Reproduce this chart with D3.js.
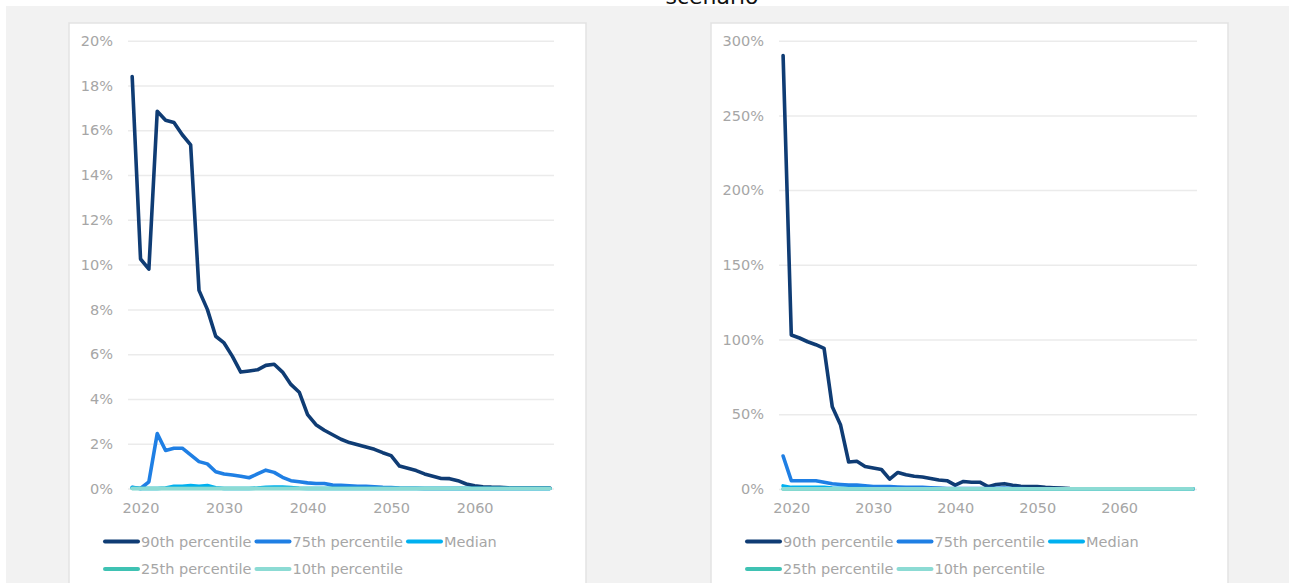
<!DOCTYPE html>
<html>
<head>
<meta charset="utf-8">
<script src="https://cdn.jsdelivr.net/npm/d3@7"></script>
<style>
  html, body { margin: 0; padding: 0; background: #ffffff; }
  svg { display: block; }
  text { font-family: "DejaVu Sans", Verdana, sans-serif; }
</style>
</head>
<body>
<svg id="chart" width="1289" height="583"></svg>
<script>
// ---------------- DATA ----------------
const years = d3.range(2019, 2070); // 2019..2069 categories
const xTickYears = [2020, 2030, 2040, 2050, 2060];
const seriesNames = ["90th percentile", "75th percentile", "Median", "25th percentile", "10th percentile"];
const seriesColors = ["#0f3c74", "#1f7fe4", "#00b0f0", "#3fc2b3", "#8cdbd4"];

// Left chart values (percent)
const leftP90 = [18.4, 10.25, 9.8, 16.85, 16.45, 16.35, 15.8, 15.35, 8.85, 8.0,
  6.8, 6.5, 5.9, 5.2, 5.25, 5.3, 5.5, 5.55, 5.2, 4.65,
  4.3, 3.3, 2.85, 2.6, 2.4, 2.2, 2.05, 1.95, 1.85, 1.75,
  1.6, 1.47, 1.0, 0.9, 0.8, 0.65, 0.55, 0.45, 0.44, 0.35,
  0.2, 0.12, 0.08, 0.06, 0.05, 0.03, 0.02, 0.02, 0.02, 0.02, 0.02];
const leftP75 = [0.05, 0.0, 0.3, 2.45, 1.7, 1.8, 1.8, 1.5, 1.2, 1.1,
  0.75, 0.65, 0.6, 0.55, 0.48, 0.65, 0.82, 0.72, 0.5, 0.35,
  0.3, 0.25, 0.22, 0.22, 0.15, 0.14, 0.12, 0.1, 0.1, 0.08,
  0.05, 0.04, 0.02, 0.01, 0.01, 0.0, 0.0, 0.0, 0.0, 0.0,
  0.0, 0.0, 0.0, 0.0, 0.0, 0.0, 0.0, 0.0, 0.0, 0.0, 0.0];
const leftMed = [0.04, 0.0, 0.0, 0.0, 0.02, 0.1, 0.1, 0.13, 0.1, 0.13,
  0.03, 0.0, 0.0, 0.0, 0.0, 0.02, 0.05, 0.07, 0.07, 0.04,
  0.01, 0.0, 0.0, 0.0, 0.0, 0.0, 0.0, 0.0, 0.0, 0.0,
  0.0, 0.0, 0.0, 0.0, 0.0, 0.0, 0.0, 0.0, 0.0, 0.0,
  0.0, 0.0, 0.0, 0.0, 0.0, 0.0, 0.0, 0.0, 0.0, 0.0, 0.0];
const leftP25 = years.map(() => 0);
const leftP10 = years.map(() => 0);

// Right chart values (percent)
const rightP90 = [290, 103, 101, 98.5, 96.5, 94, 55, 43, 18, 18.5,
  15, 14, 13, 6.5, 11, 9.5, 8.5, 8, 7, 6,
  5.5, 2.5, 5, 4.5, 4.5, 1.5, 3, 3.5, 2.5, 1.8,
  1.5, 1.5, 1.0, 0.8, 0.6, 0.2, 0.1, 0.1, 0.1, 0.1,
  0.1, 0.1, 0.1, 0.05, 0.0, 0.0, 0.0, 0.0, 0.0, 0.0, 0.0];
const rightP75 = [22, 5.5, 5.5, 5.5, 5.5, 4.5, 3.5, 3, 2.5, 2.5,
  2, 1.5, 1.5, 1.5, 1.2, 1, 1, 1, 0.8, 0.5,
  0.3, 0.2, 0.2, 0.2, 0.2, 0.2, 0.4, 0.5, 0.3, 0.2,
  0.1, 0.1, 0.1, 0.05, 0.0, 0.0, 0.0, 0.0, 0.0, 0.0,
  0.0, 0.0, 0.0, 0.0, 0.0, 0.0, 0.0, 0.0, 0.0, 0.0, 0.0];
const rightMed = [2, 1, 1, 1, 1, 1, 0.6, 0.4, 0.3, 0.3,
  0.2, 0.1, 0.1, 0.1, 0.1, 0.0, 0.0, 0.0, 0.0, 0.0,
  0.0, 0.0, 0.0, 0.0, 0.0, 0.0, 0.0, 0.0, 0.0, 0.0,
  0.0, 0.0, 0.0, 0.0, 0.0, 0.0, 0.0, 0.0, 0.0, 0.0,
  0.0, 0.0, 0.0, 0.0, 0.0, 0.0, 0.0, 0.0, 0.0, 0.0, 0.0];
const rightP25 = years.map(() => 0);
const rightP10 = years.map(() => 0);

const leftTicks = [0, 2, 4, 6, 8, 10, 12, 14, 16, 18, 20];
const rightTicks = [0, 50, 100, 150, 200, 250, 300];

// ---------------- DRAW ----------------
const svg = d3.select("#chart");
const FS = 14.5;

// page background
svg.append("rect").attr("x", 6).attr("y", 6).attr("width", 1289 - 6).attr("height", 583 - 6)
  .attr("fill", "#f2f2f2");

// partially visible title (cut off at the top, as in the reference)
svg.append("text").attr("x", 712).attr("y", 4).attr("text-anchor", "middle")
  .attr("font-size", 22).attr("fill", "#111").text("scenario");

function drawPanel(cfg) {
  const g = svg.append("g");
  g.append("rect").attr("x", cfg.panelX).attr("y", 23).attr("width", 517).attr("height", 583)
    .attr("fill", "#ffffff").attr("stroke", "#e3e3e3").attr("stroke-width", 1.5);

  const x = d3.scalePoint().domain(years).range([cfg.x0, cfg.x1]).padding(0.5);
  const y = d3.scaleLinear().domain([0, cfg.yMax]).range([cfg.yBottom, 40.7]);

  // gridlines + y labels
  const yAxis = d3.axisLeft(y).tickValues(cfg.ticks).tickSize(-(cfg.x1 - cfg.x0))
    .tickPadding(cfg.x0 - cfg.labelRight).tickFormat(d => d + "%");
  const ya = g.append("g").attr("transform", `translate(${cfg.x0},0)`).call(yAxis);
  ya.select(".domain").remove();
  ya.selectAll(".tick line").attr("stroke", "#ebebeb").attr("stroke-width", 1.5);
  ya.selectAll(".tick text").attr("fill", "#a6a6a6").attr("font-size", FS)
    .attr("font-family", "DejaVu Sans, Verdana, sans-serif");

  // x labels
  const xAxis = d3.axisBottom(x).tickValues(xTickYears).tickSize(0).tickPadding(14);
  const xa = g.append("g").attr("transform", `translate(0,${cfg.yBottom})`).call(xAxis);
  xa.select(".domain").remove();
  xa.selectAll(".tick text").attr("fill", "#a6a6a6").attr("font-size", FS)
    .attr("font-family", "DejaVu Sans, Verdana, sans-serif");

  const line = d3.line().x((d, i) => x(years[i])).y(d => y(d));
  cfg.series.forEach((s, k) => {
    g.append("path").datum(s).attr("d", line).attr("fill", "none")
      .attr("stroke", seriesColors[k]).attr("stroke-width", 3.6)
      .attr("stroke-linejoin", "round").attr("stroke-linecap", "round");
  });

  // legend
  const lx = cfg.panelX + 36;
  const colW = 151.5;
  seriesNames.forEach((name, k) => {
    const row = k < 3 ? 0 : 1;
    const col = k < 3 ? k : k - 3;
    const cx = lx + col * colW;
    const cy = row === 0 ? 541.5 : 569;
    g.append("line").attr("x1", cx).attr("x2", cx + 33).attr("y1", cy).attr("y2", cy)
      .attr("stroke", seriesColors[k]).attr("stroke-width", 4).attr("stroke-linecap", "round");
    g.append("text").attr("x", cx + 36).attr("y", cy + 5).attr("font-size", FS)
      .attr("fill", "#a6a6a6").text(name);
  });
}

drawPanel({
  panelX: 69, x0: 128, x1: 554, yBottom: 488.5, yMax: 20, labelRight: 113,
  ticks: leftTicks, series: [leftP90, leftP75, leftMed, leftP25, leftP10]
});
drawPanel({
  panelX: 711, x0: 779, x1: 1197, yBottom: 488.9, yMax: 300, labelRight: 764,
  ticks: rightTicks, series: [rightP90, rightP75, rightMed, rightP25, rightP10]
});
</script>
</body>
</html>
